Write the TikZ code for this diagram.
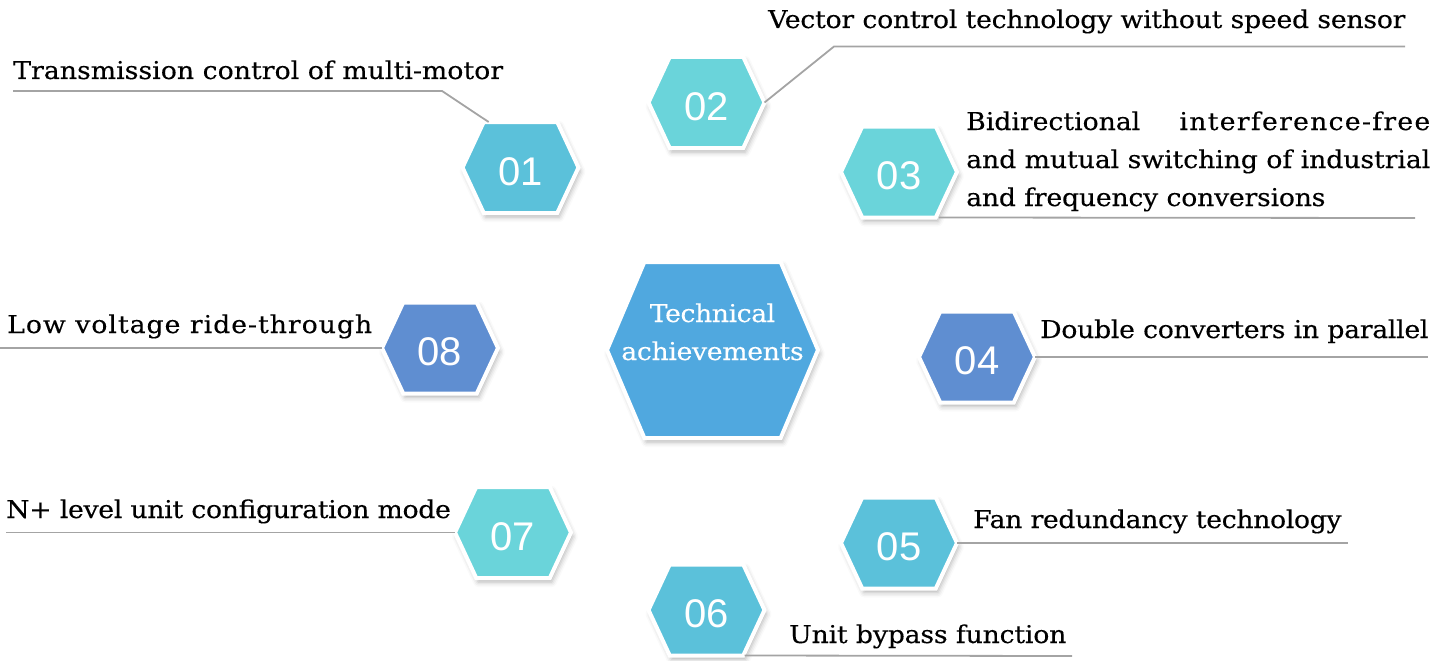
\documentclass[tikz,border=0pt]{standalone}
\usepackage{fontspec}
\usepackage{xstring}
\setmainfont{DejaVu Serif}[FakeStretch=1.09, FakeBold=0.25]
\newfontfamily\numfont{Liberation Sans}
\usetikzlibrary{shapes.symbols,shadows.blur,calc}
\definecolor{cA}{HTML}{5BC1DA}
\definecolor{cB}{HTML}{6AD4DA}
\definecolor{cC}{HTML}{5F8ED1}
\definecolor{cM}{HTML}{50A8DF}
\definecolor{lineg}{HTML}{A4A4A4}
\def\lblsize{24.5}
\newlength\fitnat
\newcommand\fitw[2]{%
  \settowidth\fitnat{#2}%
  \StrDel{#2}{ }[\fittmp]%
  \StrLen{\fittmp}[\fitn]%
  \pgfmathsetmacro\fitls{(#1-\fitnat)/(\fitn*\lblsize)*100}%
  \xdef\lastls{\fitls}%
  {\addfontfeatures{LetterSpace=\fitls}#2}}
\newcommand\lastlsw[1]{{\addfontfeatures{LetterSpace=\lastls}#1}}
\tikzset{
  hexbase/.style={shape=signal, signal to=west and east, draw=white, line width=4pt,
    inner sep=0pt, outer sep=0pt, text=white,
    blur shadow={shadow xshift=2pt, shadow yshift=-4pt, shadow blur radius=5pt, shadow opacity=30}},
  hexsmall/.style={hexbase, signal pointer angle=130, minimum width=116pt, minimum height=91pt},
  hexbig/.style={hexbase, signal pointer angle=134, minimum width=211pt, minimum height=176pt},
  numtxt/.style={inner sep=0pt, text=white, font=\numfont\fontsize{40}{40}\selectfont},
  lbl/.style={anchor=base west, inner sep=0pt, text=black, font=\fontsize{\lblsize}{38}\selectfont},
  conn/.style={draw=lineg, line width=1.8pt},
}
\begin{document}
\begin{tikzpicture}[x=1pt,y=-1pt]
\useasboundingbox (0,0) rectangle (1449,661);
% hexagons
\node[hexbig, fill=cM] (m) at (712.5,350) {};
\node[lbl, anchor=base, text=white] (mt1) at (712.5,322) {\fitw{125}{Technical}};
\node[lbl, anchor=base, text=white] (mt2) at (712.5,360) {\fitw{182}{achievements}};
\node[hexsmall, fill=cA] (h1) at (520.5,167.5) {};
\node[hexsmall, fill=cB] (h2) at (706.5,102.5) {};
\node[hexsmall, fill=cB] (h3) at (899,172) {};
\node[hexsmall, fill=cC] (h4) at (977,357) {};
\node[hexsmall, fill=cA] (h5) at (899,543) {};
\node[hexsmall, fill=cA] (h6) at (706.5,610) {};
\node[hexsmall, fill=cB] (h7) at (513,532.5) {};
\node[hexsmall, fill=cC] (h8) at (440,348) {};
\node[numtxt] (n1) at ($(h1.center)+(0,4)$) {01};
\node[numtxt] (n2) at ($(h2.center)+(0,4)$) {02};
\node[numtxt] (n3) at ($(h3.center)+(0,4)$) {03};
\node[numtxt] (n4) at ($(h4.center)+(0,4)$) {04};
\node[numtxt] (n5) at ($(h5.center)+(0,4)$) {05};
\node[numtxt] (n6) at ($(h6.center)+(0,4)$) {06};
\node[numtxt] (n7) at ($(h7.center)+(0,4)$) {07};
\node[numtxt] (n8) at ($(h8.center)+(0,4)$) {08};
% labels
\node[lbl] (t1) at (13,79) {\fitw{490}{Transmission control of multi-motor}};
\node[lbl] (t2) at (768,28) {\fitw{637}{Vector control technology without speed sensor}};
\node[lbl] (t3a) at (966,130) {\makebox[464pt][s]{\fitw{174}{Bidirectional}\hspace{0pt plus 1fill}\fitw{252}{interference-free}}};
\node[lbl] (t3b) at (966,168) {\fitw{464}{and mutual switching of industrial}};
\node[lbl] (t3c) at (966,206) {\fitw{359}{and frequency conversions}};
\node[lbl] (t4) at (1040,338) {\fitw{388}{Double converters in parallel}};
\node[lbl] (t5) at (973,528) {\fitw{368}{Fan redundancy technology}};
\node[lbl] (t6) at (789,643) {\fitw{277}{Unit bypass function}};
\node[lbl] (t7) at (6,518) {\fitw{444}{N+ level unit configuration mode}};
\node[lbl] (t8) at (7,333) {\fitw{366}{Low voltage ride-through}};
% connector points
\coordinate (a1) at (13,91);
\coordinate (b1) at (442,91);
\coordinate (a2) at (1405,46.5);
\coordinate (b2) at (834,46.5);
\coordinate (a3) at (1415,218);
\coordinate (a4) at (1428,357);
\coordinate (a5) at (1348,543);
\coordinate (a6) at (1072,656);
\coordinate (a7) at (6,532.5);
\coordinate (a8) at (0,348);
% connectors
\draw[conn] (a1) -- (b1) -- (h1.125);
\draw[conn] (a2) -- (b2) -- (h2.east);
\draw[conn] ($(h3.south)+(40,0)$) -- (a3);
\draw[conn] (h4.east) -- (a4);
\draw[conn] (h5.east) -- (a5);
\draw[conn] ($(h6.south)+(38,0)$) -- (a6);
\draw[conn] (a7) -- (h7.west);
\draw[conn] (a8) -- (h8.west);
\end{tikzpicture}
\end{document}
